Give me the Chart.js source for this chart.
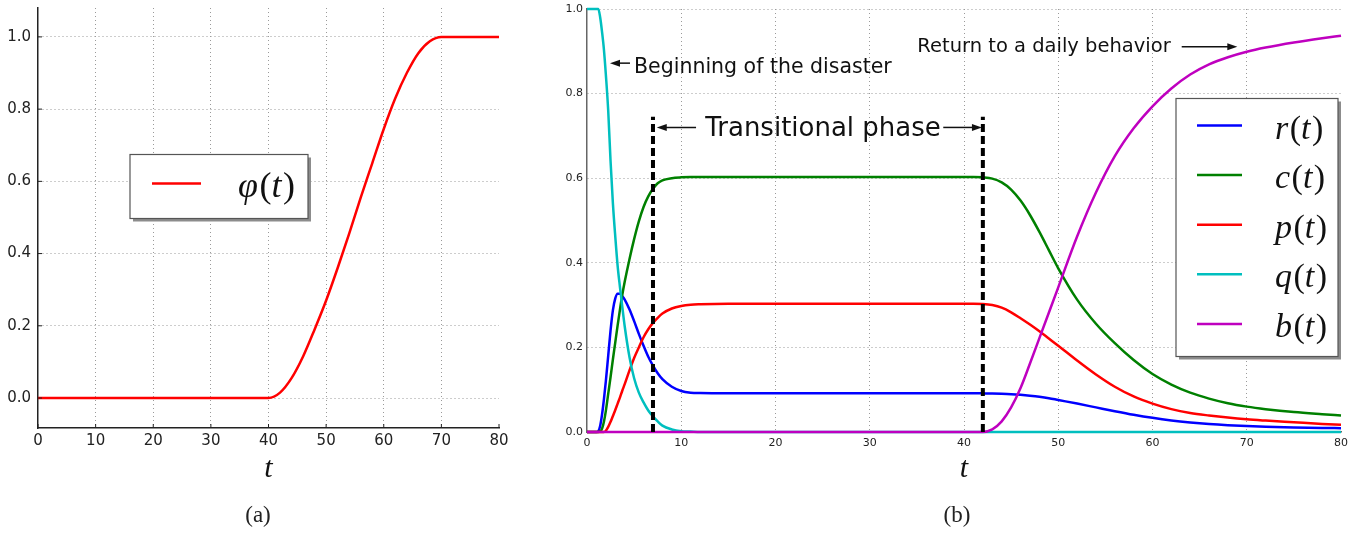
<!DOCTYPE html>
<html>
<head>
<meta charset="utf-8">
<script src="https://cdn.jsdelivr.net/npm/chart.js@4.4.0/dist/chart.umd.min.js"></script>
<style>
  html, body { margin: 0; padding: 0; background: #fff; }
  #wrap { position: relative; width: 1372px; height: 536px; overflow: hidden; }
  canvas { position: absolute; top: 0; }
  #phiChart { left: 0; }
  #sysChart { left: 550px; }
  .cap { position: absolute; top: 503px; width: 100px; text-align: center;
         font-family: "Liberation Serif", serif; font-size: 23px; line-height: 23px; color: #222; }
</style>
</head>
<body>
<div id="wrap">
  <canvas id="phiChart" width="550" height="536"></canvas>
  <canvas id="sysChart" width="822" height="536"></canvas>
  <div class="cap" style="left:208px">(a)</div>
  <div class="cap" style="left:907px">(b)</div>
</div>
<script>
// figure.js

// (a) fonction de transition phi(t)
const phiT   = [0, 10, 20, 30, 40, 42, 44, 46, 48, 50, 52, 54, 56, 58, 60, 62, 64, 66, 68, 70, 75, 80];
const phiVal = [0, 0, 0, 0, 0, 0.015, 0.055, 0.115, 0.19, 0.27, 0.36, 0.455, 0.555, 0.65, 0.745, 0.83, 0.9, 0.955, 0.988, 1, 1, 1];

// (b) les cinq populations r, c, p, q, b (8 valeurs par ligne)
const tGrid = [0, 0.5, 1, 1.2, 1.4, 1.6, 1.8, 2,
               2.25, 2.5, 2.75, 3, 3.25, 3.5, 3.75, 4,
               4.5, 5, 5.5, 6, 6.5, 7, 7.5, 8,
               9, 10, 11, 12, 15, 20, 30, 40,
               41, 42, 43, 44, 45, 46, 47, 48,
               49, 50, 52, 54, 56, 58, 60, 62,
               64, 66, 68, 70, 72, 75, 78, 80];
const rVal = [0, 0, 0, 0.002, 0.015, 0.042, 0.078, 0.12,
              0.18, 0.24, 0.288, 0.316, 0.327, 0.327, 0.321, 0.313,
              0.29, 0.262, 0.232, 0.204, 0.178, 0.157, 0.139, 0.125,
              0.107, 0.097, 0.093, 0.092, 0.0915, 0.0915, 0.0915, 0.0915,
              0.0915, 0.0913, 0.091, 0.0903, 0.0893, 0.0878, 0.0858, 0.0833,
              0.08, 0.0757, 0.0672, 0.0582, 0.0492, 0.0408, 0.0335, 0.0274,
              0.0226, 0.0188, 0.016, 0.014, 0.0125, 0.0108, 0.0096, 0.009];
const cVal = [0, 0, 0, 0, 0.001, 0.008, 0.025, 0.05,
              0.09, 0.13, 0.172, 0.212, 0.252, 0.29, 0.325, 0.355,
              0.408, 0.456, 0.498, 0.532, 0.557, 0.575, 0.588, 0.595,
              0.6, 0.602, 0.603, 0.603, 0.603, 0.603, 0.603, 0.603,
              0.603, 0.602, 0.599, 0.59, 0.573, 0.547, 0.513, 0.473,
              0.43, 0.387, 0.313, 0.256, 0.21, 0.17, 0.137, 0.112,
              0.093, 0.079, 0.068, 0.06, 0.054, 0.047, 0.042, 0.039];
const pVal = [0, 0, 0, 0, 0, 0, 0, 0.003,
              0.012, 0.024, 0.038, 0.052, 0.067, 0.082, 0.098, 0.113,
              0.145, 0.175, 0.2, 0.224, 0.243, 0.258, 0.27, 0.28,
              0.292, 0.298, 0.301, 0.302, 0.303, 0.303, 0.303, 0.303,
              0.303, 0.3025, 0.3, 0.294, 0.283, 0.269, 0.254, 0.238,
              0.221, 0.204, 0.169, 0.136, 0.107, 0.084, 0.067, 0.054,
              0.045, 0.039, 0.034, 0.03, 0.027, 0.023, 0.019, 0.017];
const qVal = [1, 1, 1, 1, 0.98, 0.945, 0.903, 0.845,
              0.76, 0.64, 0.54, 0.462, 0.393, 0.342, 0.295, 0.25,
              0.178, 0.127, 0.093, 0.07, 0.051, 0.037, 0.025, 0.015,
              0.006, 0.002, 0.001, 0, 0, 0, 0, 0,
              0, 0, 0, 0, 0, 0, 0, 0,
              0, 0, 0, 0, 0, 0, 0, 0,
              0, 0, 0, 0, 0, 0, 0, 0];
const bVal = [0, 0, 0, 0, 0, 0, 0, 0,
              0, 0, 0, 0, 0, 0, 0, 0,
              0, 0, 0, 0, 0, 0, 0, 0,
              0, 0, 0, 0, 0, 0, 0, 0,
              0, 0, 0.006, 0.025, 0.058, 0.104, 0.162, 0.222,
              0.282, 0.342, 0.462, 0.566, 0.652, 0.718, 0.77, 0.812,
              0.845, 0.869, 0.886, 0.899, 0.909, 0.921, 0.931, 0.937];

// bornes de la phase de transition (pointillés)
const phaseT   = [7, 42];
const phaseTop = 0.745;

// graduations
const xTicks    = [0, 10, 20, 30, 40, 50, 60, 70, 80];
const yTicks    = [0, 0.2, 0.4, 0.6, 0.8, 1.0];
const yTickText = ['0.0', '0.2', '0.4', '0.6', '0.8', '1.0'];

// textes et flèches du graphique (b), en coordonnées des données
const notes = [
  { text: 'Beginning of the disaster',  x: 4.99,  y: 0.848, size: 20.5, align: 'left' },
  { text: 'Transitional phase',         x: 25.04, y: 0.700, size: 26,   align: 'center' },
  { text: 'Return to a daily behavior', x: 35.05, y: 0.898, size: 19.5, align: 'left' }
];
const arrows = [
  { from: [4.56, 0.872],  to: [2.44, 0.872] },
  { from: [11.57, 0.72],  to: [7.4, 0.72] },
  { from: [37.8, 0.72],   to: [41.9, 0.72] },
  { from: [63.1, 0.911],  to: [69.0, 0.911] }
];

const pts = (xs, ys) => xs.map((x, i) => ({ x, y: ys[i] }));

// écrit "r(t)" avec lettres en italique et parenthèses droites
function drawMath(ctx, sym, x, y, size) {
  const parts = [[sym, 'italic'], ['(', 'normal'], ['t', 'italic'], [')', 'normal']];
  ctx.fillStyle = '#111';
  ctx.textBaseline = 'alphabetic';
  ctx.textAlign = 'left';
  parts.forEach(([s, st]) => {
    ctx.font = `${st} ${size}px "Liberation Serif"`;
    ctx.fillText(s, x, y);
    x += ctx.measureText(s).width + (st === 'italic' ? 1.5 : 0);
  });
}

// légende encadrée avec ombre, à la matplotlib
const boxLegend = {
  id: 'boxLegend',
  afterDatasetsDraw(chart, args, o) {
    const { ctx, chartArea: a } = chart;
    const bx = a.left + o.dx, by = a.top + o.dy;
    ctx.save();
    ctx.fillStyle = '#8c8c8c';
    ctx.fillRect(bx + 3, by + 3, o.w, o.h);
    ctx.fillStyle = '#fff';
    ctx.fillRect(bx, by, o.w, o.h);
    ctx.strokeStyle = '#555';
    ctx.lineWidth = 1.2;
    ctx.strokeRect(bx, by, o.w, o.h);
    chart.data.datasets.filter(d => d.math).forEach((d, i) => {
      const y = by + o.first + i * o.step;
      ctx.strokeStyle = d.borderColor;
      ctx.lineWidth = 2.5;
      ctx.beginPath();
      ctx.moveTo(bx + o.x0, y);
      ctx.lineTo(bx + o.x1, y);
      ctx.stroke();
      drawMath(ctx, d.math, bx + o.textX, y + o.baseOff, o.size);
    });
    ctx.restore();
  }
};

// petites graduations vers l'intérieur
const innerTicks = {
  id: 'innerTicks',
  afterDraw(chart, args, o) {
    if (!o.on) return;
    const { ctx, scales: { x, y }, chartArea: a } = chart;
    ctx.save();
    ctx.strokeStyle = o.color;
    ctx.lineWidth = 1;
    ctx.beginPath();
    x.ticks.forEach(t => {
      const px = x.getPixelForValue(t.value);
      ctx.moveTo(px, a.bottom); ctx.lineTo(px, a.bottom - 4);
    });
    y.ticks.forEach(t => {
      const py = y.getPixelForValue(t.value);
      ctx.moveTo(a.left, py); ctx.lineTo(a.left + 4, py);
    });
    ctx.stroke();
    ctx.restore();
  }
};

// annotations texte + flèches
const annot = {
  id: 'annot',
  afterDatasetsDraw(chart, args, o) {
    if (!o.on) return;
    const { ctx, scales: { x, y } } = chart;
    ctx.save();
    ctx.fillStyle = '#111';
    ctx.textBaseline = 'alphabetic';
    notes.forEach(n => {
      ctx.font = `${n.size}px "DejaVu Sans"`;
      ctx.textAlign = n.align;
      ctx.fillText(n.text, x.getPixelForValue(n.x), y.getPixelForValue(n.y));
    });
    arrows.forEach(ar => {
      const x0 = x.getPixelForValue(ar.from[0]), y0 = y.getPixelForValue(ar.from[1]);
      const x1 = x.getPixelForValue(ar.to[0]),   y1 = y.getPixelForValue(ar.to[1]);
      const dir = Math.sign(x1 - x0);
      ctx.strokeStyle = '#111';
      ctx.lineWidth = 1.5;
      ctx.beginPath();
      ctx.moveTo(x0, y0);
      ctx.lineTo(x1 - dir * 8, y1);
      ctx.stroke();
      ctx.beginPath();
      ctx.moveTo(x1, y1);
      ctx.lineTo(x1 - dir * 10, y1 - 3.5);
      ctx.lineTo(x1 - dir * 10, y1 + 3.5);
      ctx.closePath();
      ctx.fill();
    });
    ctx.restore();
  }
};

function makeScales(cfg) {
  const hideEdge = ctx => cfg.hidden.includes(ctx.tick.value) ? 'rgba(0,0,0,0)' : '#9a9a9a';
  return {
    x: {
      type: 'linear', min: 0, max: 80,
      afterBuildTicks: ax => { ax.ticks = xTicks.map(v => ({ value: v })); },
      afterFit: ax => { ax.height = cfg.xHeight; ax.paddingLeft = 0; ax.paddingRight = 0; },
      grid: { color: hideEdge, lineWidth: 1, drawTicks: false },
      border: { color: cfg.spine, width: 1.5, dash: [1, 3] },
      ticks: { color: '#222', padding: cfg.xPad, font: { family: 'DejaVu Sans', size: cfg.tickSize },
               callback: v => String(v) },
      title: { display: true, text: 't', color: '#111', padding: { top: 0, bottom: 51.5 },
               font: { family: 'Liberation Serif', style: 'italic', size: 30, lineHeight: 1 } }
    },
    y: {
      type: 'linear', min: cfg.yMin, max: cfg.yMax,
      afterBuildTicks: ax => { ax.ticks = yTicks.map(v => ({ value: v })); },
      afterFit: ax => { ax.width = cfg.yWidth; ax.paddingTop = 0; ax.paddingBottom = 0; },
      grid: { color: ctx => (cfg.yHidden.includes(ctx.tick.value) ? 'rgba(0,0,0,0)' : '#9a9a9a'), lineWidth: 1, drawTicks: false },
      border: { color: cfg.spine, width: 1.5, dash: [1, 3] },
      ticks: { color: '#222', padding: cfg.yPad, font: { family: 'DejaVu Sans', size: cfg.tickSize },
               callback: v => yTickText[yTicks.indexOf(v)] }
    }
  };
}

const line = (label, data, color, order, math) => ({
  label, data, math, order,
  borderColor: color, borderWidth: 2.5, pointRadius: 0,
  cubicInterpolationMode: 'monotone', fill: false, clip: 6
});

// (a)
new Chart(document.getElementById('phiChart'), {
  type: 'line',
  data: { datasets: [line('phi', pts(phiT, phiVal), '#ff0000', 1, 'φ')] },
  options: {
    responsive: false, animation: false, devicePixelRatio: 1,
    layout: { padding: { left: 0, right: 51, top: 8, bottom: 0 } },
    scales: makeScales({ spine: '#222', hidden: [0, 80], yHidden: [], xHeight: 108, yWidth: 38,
                         yMin: -0.083, yMax: 1.08, tickSize: 15, xPad: 4, yPad: 7 }),
    plugins: {
      legend: { display: false }, tooltip: { enabled: false },
      boxLegend: { dx: 92, dy: 146.5, w: 178, h: 64, first: 29, step: 0, x0: 22, x1: 71,
                   textX: 108, baseOff: 13.5, size: 36 },
      innerTicks: { on: true, color: '#222' },
      annot: { on: false }
    }
  },
  plugins: [boxLegend, innerTicks, annot]
});

// (b)
const phaseSets = phaseT.map(t => ({
  label: 'phase', data: [{ x: t, y: 0 }, { x: t, y: phaseTop }], order: 0,
  borderColor: '#000', borderWidth: 4, borderDash: [8, 4], pointRadius: 0, fill: false, clip: 6
}));

new Chart(document.getElementById('sysChart'), {
  type: 'line',
  data: {
    datasets: [
      line('r', pts(tGrid, rVal), '#0000ff', 5, 'r'),
      line('c', pts(tGrid, cVal), '#008000', 4, 'c'),
      line('p', pts(tGrid, pVal), '#ff0000', 3, 'p'),
      line('q', pts(tGrid, qVal), '#00bfbf', 2, 'q'),
      line('b', pts(tGrid, bVal), '#bf00bf', 1, 'b'),
      ...phaseSets
    ]
  },
  options: {
    responsive: false, animation: false, devicePixelRatio: 1,
    layout: { padding: { left: 0, right: 31, top: 9, bottom: 0 } },
    scales: makeScales({ spine: '#666', hidden: [0, 80], yHidden: [0], xHeight: 104, yWidth: 37,
                         yMin: 0, yMax: 1, tickSize: 11, xPad: 5, yPad: 4 }),
    plugins: {
      legend: { display: false }, tooltip: { enabled: false },
      boxLegend: { dx: 589, dy: 89.5, w: 162, h: 258, first: 27, step: 49.6, x0: 21, x1: 66,
                   textX: 99, baseOff: 13, size: 34 },
      innerTicks: { on: false },
      annot: { on: true }
    }
  },
  plugins: [boxLegend, innerTicks, annot]
});
</script>
</body>
</html>
